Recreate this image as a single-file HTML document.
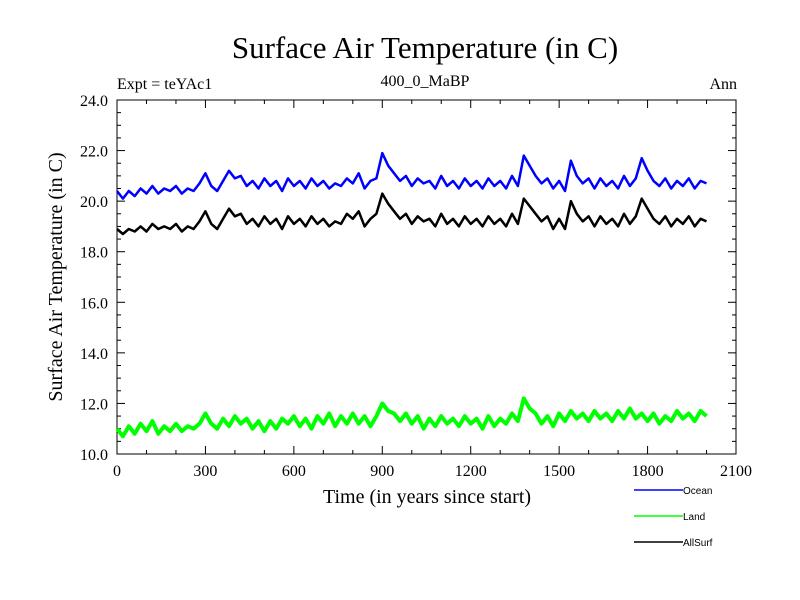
<!DOCTYPE html>
<html><head><meta charset="utf-8"><style>
body{margin:0;background:#fff}
svg{display:block}
text{font-family:"Liberation Serif",serif;fill:#000}
.lg{font-family:"Liberation Sans",sans-serif;font-size:10px}
</style></head><body>
<svg id="chart" width="800" height="600" viewBox="0 0 800 600">
<text x="425" y="58" font-size="31" text-anchor="middle">Surface Air Temperature (in C)</text>
<text x="117" y="89" font-size="16">Expt = teYAc1</text>
<text x="425" y="86" font-size="16" text-anchor="middle">400_0_MaBP</text>
<text x="737" y="89" font-size="16" text-anchor="end">Ann</text>
<text transform="translate(62,277) rotate(-90)" font-size="20" text-anchor="middle">Surface Air Temperature (in C)</text>
<text x="427" y="503" font-size="20" text-anchor="middle">Time (in years since start)</text>
<g id="axes"></g>
<g id="series"></g>
<g id="legend"></g>
</svg>
<script>
const xTicks=[0,300,600,900,1200,1500,1800,2100];
const yTicks=[10,12,14,16,18,20,22,24];
const seriesNames=["Ocean","Land","AllSurf"];
const seriesColors=["#0000ff","#00ff00","#000000"];
const ocean=[20.4,20.1,20.4,20.2,20.5,20.3,20.6,20.3,20.5,20.4,
20.6,20.3,20.5,20.4,20.7,21.1,20.6,20.4,20.8,21.2,
20.9,21.0,20.6,20.8,20.5,20.9,20.6,20.8,20.4,20.9,
20.6,20.8,20.5,20.9,20.6,20.8,20.5,20.7,20.6,20.9,
20.7,21.1,20.5,20.8,20.9,21.9,21.4,21.1,20.8,21.0,
20.6,20.9,20.7,20.8,20.5,21.0,20.6,20.8,20.5,20.9,
20.6,20.8,20.5,20.9,20.6,20.8,20.5,21.0,20.6,21.8,
21.4,21.0,20.7,20.9,20.5,20.8,20.4,21.6,21.0,20.7,
20.9,20.5,20.9,20.6,20.8,20.5,21.0,20.6,20.9,21.7,
21.2,20.8,20.6,20.9,20.5,20.8,20.6,20.9,20.5,20.8,20.7];
const land=[11.0,10.7,11.1,10.8,11.2,10.9,11.3,10.8,11.1,10.9,
11.2,10.9,11.1,11.0,11.2,11.6,11.2,11.0,11.4,11.1,
11.5,11.2,11.4,11.0,11.3,10.9,11.3,11.0,11.4,11.2,
11.5,11.1,11.4,11.0,11.5,11.2,11.6,11.1,11.5,11.2,
11.6,11.2,11.5,11.1,11.5,12.0,11.7,11.6,11.3,11.6,
11.2,11.5,11.0,11.4,11.1,11.5,11.2,11.4,11.1,11.5,
11.2,11.4,11.0,11.5,11.1,11.4,11.2,11.6,11.3,12.2,
11.8,11.6,11.2,11.5,11.1,11.6,11.3,11.7,11.4,11.6,
11.3,11.7,11.4,11.6,11.3,11.7,11.4,11.8,11.4,11.6,
11.3,11.6,11.2,11.5,11.3,11.7,11.4,11.6,11.3,11.7,11.5];
const allSurf=[18.9,18.7,18.9,18.8,19.0,18.8,19.1,18.9,19.0,18.9,
19.1,18.8,19.0,18.9,19.2,19.6,19.1,18.9,19.3,19.7,
19.4,19.5,19.1,19.3,19.0,19.4,19.1,19.3,18.9,19.4,
19.1,19.3,19.0,19.4,19.1,19.3,19.0,19.2,19.1,19.5,
19.3,19.6,19.0,19.3,19.5,20.3,19.9,19.6,19.3,19.5,
19.1,19.4,19.2,19.3,19.0,19.5,19.1,19.3,19.0,19.4,
19.1,19.3,19.0,19.4,19.1,19.3,19.0,19.5,19.1,20.1,
19.8,19.5,19.2,19.4,18.9,19.3,18.9,20.0,19.5,19.2,
19.4,19.0,19.4,19.1,19.3,19.0,19.5,19.1,19.4,20.1,
19.7,19.3,19.1,19.4,19.0,19.3,19.1,19.4,19.0,19.3,19.2];
const yearStep=20;

const L=117,R=736,T=100,B=454;
const X=v=>L+(v-0)/(2100-0)*(R-L);
const Y=v=>B-(v-10)/(24-10)*(B-T);
const NS="http://www.w3.org/2000/svg";
function mk(tag,attrs,parent){const e=document.createElementNS(NS,tag);for(const k in attrs)e.setAttribute(k,attrs[k]);parent.appendChild(e);return e;}
const axes=document.getElementById('axes');
const frame=mk('rect',{x:L,y:T,width:R-L,height:B-T,fill:'none',stroke:'#000','stroke-width':1},axes);


for(let v=0;v<=2100;v+=100){const maj=v%300===0;const len=maj?8:4;
 mk('line',{x1:X(v),x2:X(v),y1:B,y2:B-len,stroke:'#000'},axes);
 mk('line',{x1:X(v),x2:X(v),y1:T,y2:T+len,stroke:'#000'},axes);}
for(let v=10;v<=24.001;v+=0.5){const maj=Math.abs(v-Math.round(v/2)*2)<0.01;const len=maj?8:4;
 mk('line',{x1:L,x2:L+len,y1:Y(v),y2:Y(v),stroke:'#000'},axes);
 mk('line',{x1:R,x2:R-len,y1:Y(v),y2:Y(v),stroke:'#000'},axes);}
xTicks.forEach(v=>{const t=mk('text',{x:X(v),y:476,'font-size':16,'text-anchor':'middle'},axes);t.textContent=v;
 
 });
yTicks.forEach(v=>{const t=mk('text',{x:108,y:Y(v)+6,'font-size':16,'text-anchor':'end'},axes);t.textContent=v.toFixed(1);
 
 });
const sg=document.getElementById('series');
const widths=[2.5,4,2.5];
[ocean,land,allSurf].forEach((arr,i)=>{
 const d=arr.map((v,j)=>(j?'L':'M')+X(j*yearStep).toFixed(1)+' '+Y(v).toFixed(1)).join(' ');
 const p=mk('path',{d:d,fill:'none',stroke:seriesColors[i],'stroke-width':widths[i],'stroke-linejoin':'round'},sg);
 
 
});
const lg=document.getElementById('legend');
seriesNames.forEach((n,i)=>{const y=490+i*26;
 const g=mk('g',{},lg);
 
 
 mk('line',{x1:634,x2:683,y1:y,y2:y,stroke:seriesColors[i],'stroke-width':1.5},g);
 const t=mk('text',{x:683,y:y+4,class:'lg'},g);t.textContent=n;});
</script>
</body></html>
